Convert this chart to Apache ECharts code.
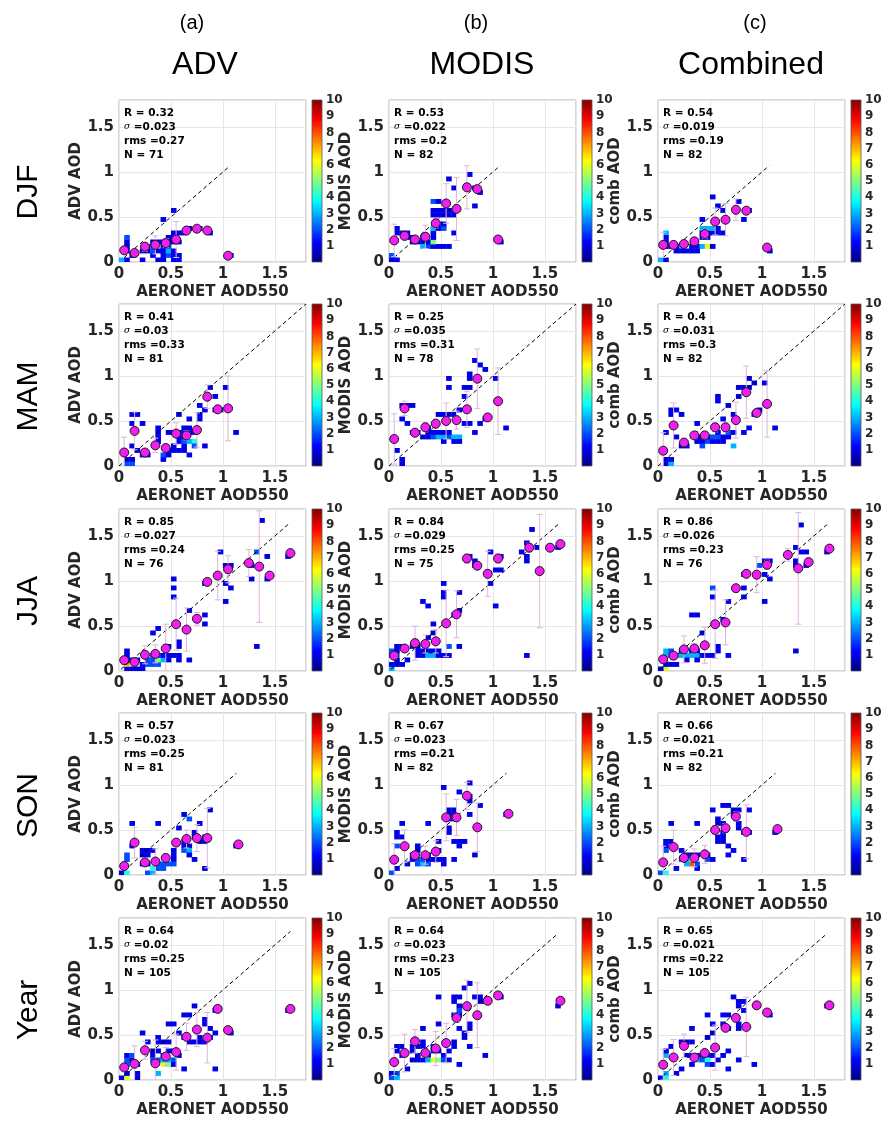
<!DOCTYPE html>
<html><head><meta charset="utf-8">
<script src="https://cdn.jsdelivr.net/npm/echarts@6/dist/echarts.min.js"></script>
<style>html,body{margin:0;padding:0;background:#fff}#c{width:894px;height:1128px}</style>
</head><body><div id="c"></div><script>
// ---------------- DATA ----------------
const COL_TAGS = ['(a)', '(b)', '(c)'];
const COL_TITLES = ['ADV', 'MODIS', 'Combined'];
const ROW_LABELS = ['DJF', 'MAM', 'JJA', 'SON', 'Year'];
const Y_NAMES = ['ADV AOD', 'MODIS AOD', 'comb AOD'];
const X_NAME = 'AERONET AOD550';
const AXIS_TICKS = [0, 0.5, 1, 1.5];
const CBAR_TICKS = [1, 2, 3, 4, 5, 6, 7, 8, 9, 10];
const BIN = 0.05;

const STAT_R = [[0.32, 0.53, 0.54], [0.41, 0.25, 0.4], [0.85, 0.84, 0.86], [0.57, 0.67, 0.66], [0.64, 0.64, 0.65]];
const STAT_SIGMA = [[0.023, 0.022, 0.019], [0.03, 0.035, 0.031], [0.027, 0.029, 0.026], [0.023, 0.023, 0.021], [0.02, 0.023, 0.021]];
const STAT_RMS = [[0.27, 0.2, 0.19], [0.33, 0.31, 0.3], [0.24, 0.25, 0.23], [0.25, 0.21, 0.21], [0.25, 0.23, 0.22]];
const STAT_N = [[71, 82, 82], [81, 78, 82], [76, 75, 76], [81, 82, 82], [105, 105, 105]];

// 1:1 line extent [start, end] per panel
const LINE_EXT = [
  [[0.05, 1.07], [0.05, 1.07], [0.05, 1.07]],
  [[0, 1.8], [0, 1.8], [0, 1.8]],
  [[0.02, 1.65], [0.02, 1.65], [0.02, 1.65]],
  [[0.05, 1.13], [0.1, 1.13], [0.05, 1.13]],
  [[0.05, 1.65], [0.05, 1.63], [0.05, 1.63]]
];

// 2D histogram cells: [x bin start, y bin start, count]
const cells_ADV_DJF = [[0,0,3],[0.05,0,1],[0.05,0.1,1],[0.05,0.15,1],[0.05,0.2,1],[0.05,0.25,2],[0.1,0.05,1],[0.2,0,1],[0.2,0.1,1],[0.25,0.1,1],[0.25,0.15,2],[0.3,0.05,1],[0.3,0.1,2],[0.3,0.15,2],[0.3,0.2,1],[0.35,0,1],[0.35,0.1,1],[0.35,0.2,1],[0.4,0,1],[0.4,0.05,1],[0.4,0.1,1],[0.4,0.15,1],[0.4,0.2,1],[0.4,0.45,1],[0.45,0.05,2],[0.45,0.1,3],[0.45,0.15,2],[0.45,0.2,1],[0.45,0.25,1],[0.5,0,1],[0.5,0.05,1],[0.5,0.1,1],[0.5,0.2,1],[0.5,0.25,1],[0.5,0.3,1],[0.5,0.55,1],[0.55,0,1],[0.55,0.05,1],[0.55,0.2,1],[0.55,0.3,1],[0.6,0.3,1],[0.65,0.35,1],[0.75,0.35,1],[0.85,0.3,1],[1.05,0.05,1]];
const cells_MODIS_DJF = [[0,0,1],[0.05,0,1],[0,0.05,2],[0.05,0.3,1],[0.05,0.35,1],[0.1,0.3,1],[0.15,0.3,1],[0.15,0.25,1],[0.2,0.2,1],[0.2,0.25,1],[0.25,0.2,1],[0.3,0.2,1],[0.3,0.15,3],[0.35,0.15,2],[0.4,0.15,1],[0.45,0.15,1],[0.5,0.15,1],[0.55,0.15,1],[0.35,0.2,1],[0.3,0.25,1],[0.4,0.2,5],[0.4,0.25,1],[0.4,0.3,1],[0.4,0.35,3],[0.45,0.35,1],[0.45,0.4,2],[0.4,0.5,1],[0.4,0.55,1],[0.4,0.65,2],[0.45,0.65,1],[0.45,0.5,1],[0.45,0.55,1],[0.5,0.5,1],[0.5,0.55,1],[0.55,0.5,1],[0.55,0.55,1],[0.6,0.55,1],[0.6,0.5,1],[0.5,0.35,2],[0.5,0.4,1],[0.55,0.9,1],[0.6,0.8,1],[0.6,0.3,1],[0.75,0.95,1],[0.8,0.6,1],[0.85,0.75,1],[0.8,0.8,1],[1.05,0.2,1]];
const cells_COMB_DJF = [[0,0,3],[0.05,0,1],[0.05,0.3,3],[0.05,0.25,1],[0.05,0.2,1],[0.05,0.15,1],[0.1,0.15,1],[0.15,0.15,1],[0.2,0.15,3],[0.15,0.1,1],[0.2,0.1,1],[0.25,0.1,1],[0.3,0.1,1],[0.3,0.15,1],[0.35,0.15,1],[0.35,0.1,1],[0.4,0.15,3],[0.45,0.15,6],[0.5,0.15,1],[0.4,0.25,1],[0.45,0.25,1],[0.4,0.3,1],[0.45,0.3,1],[0.5,0.3,1],[0.55,0.3,1],[0.4,0.35,3],[0.45,0.35,3],[0.5,0.35,3],[0.55,0.35,1],[0.6,0.3,1],[0.4,0.45,1],[0.5,0.7,1],[0.55,0.6,1],[0.6,0.55,1],[0.75,0.65,1],[0.8,0.45,1],[0.85,0.55,1],[1.05,0.1,1]];
const cells_ADV_MAM = [[0.05,0,2],[0.05,0.05,1],[0.1,0,2],[0.1,0.05,1],[0.1,0.2,1],[0.1,0.45,1],[0.1,0.55,1],[0.15,0.55,1],[0.15,0.15,1],[0.2,0.45,1],[0.2,0.1,1],[0.25,0.1,1],[0.35,0.25,1],[0.35,0.3,1],[0.35,0.35,1],[0.35,0.4,1],[0.4,0.05,1],[0.4,0.1,2],[0.45,0.1,1],[0.45,0.15,1],[0.45,0.35,1],[0.5,0.15,1],[0.5,0.2,1],[0.5,0.35,1],[0.55,0.15,1],[0.55,0.25,1],[0.55,0.3,1],[0.55,0.35,1],[0.55,0.55,1],[0.6,0.15,1],[0.6,0.2,1],[0.6,0.25,2],[0.6,0.3,1],[0.6,0.35,1],[0.6,0.4,1],[0.65,0.25,3],[0.65,0.35,1],[0.65,0.4,1],[0.65,0.1,1],[0.65,0.5,1],[0.7,0.25,4],[0.7,0.2,2],[0.7,0.35,1],[0.75,0.5,1],[0.75,0.55,1],[0.75,0.65,1],[0.8,0.2,1],[0.8,0.6,1],[0.85,0.85,1],[0.9,0.75,1],[0.9,0.6,1],[0.95,0.6,1],[1.0,0.85,1],[1.1,0.35,1]];
const cells_MODIS_MAM = [[0.1,0,1],[0.1,0.05,1],[0.05,0.15,1],[0.1,0.5,1],[0.1,0.65,1],[0.15,0.65,1],[0.2,0.65,1],[0.15,0.45,1],[0.2,0.35,1],[0.25,0.35,1],[0.3,0.3,1],[0.35,0.35,1],[0.35,0.4,1],[0.35,0.3,1],[0.4,0.3,2],[0.4,0.35,1],[0.45,0.3,3],[0.5,0.3,3],[0.55,0.3,2],[0.6,0.3,3],[0.65,0.3,3],[0.45,0.35,1],[0.5,0.35,1],[0.55,0.35,1],[0.6,0.25,1],[0.65,0.25,1],[0.5,0.25,1],[0.45,0.55,1],[0.5,0.55,1],[0.55,0.55,1],[0.6,0.55,1],[0.65,0.6,1],[0.55,0.85,1],[0.55,0.95,1],[0.7,0.85,1],[0.75,0.85,1],[0.75,0.95,1],[0.75,1.0,1],[0.8,1.15,1],[0.85,1.1,1],[0.9,1.05,1],[0.7,0.75,1],[0.7,0.45,1],[0.75,0.45,1],[0.85,0.45,1],[0.8,0.35,1],[0.9,0.5,1],[1.0,0.95,1],[1.1,0.4,1]];
const cells_COMB_MAM = [[0.05,0,1],[0.05,0.05,1],[0.1,0,3],[0.1,0.05,1],[0.1,0.55,1],[0.1,0.6,1],[0.15,0.6,1],[0.05,0.35,1],[0.15,0.3,1],[0.2,0.55,1],[0.2,0.2,1],[0.25,0.2,1],[0.35,0.45,1],[0.35,0.25,1],[0.35,0.3,1],[0.4,0.2,2],[0.4,0.25,1],[0.4,0.3,1],[0.45,0.25,2],[0.45,0.3,1],[0.5,0.25,1],[0.5,0.3,2],[0.55,0.25,1],[0.55,0.3,2],[0.55,0.35,1],[0.6,0.25,1],[0.6,0.3,1],[0.65,0.3,1],[0.65,0.35,2],[0.7,0.2,3],[0.7,0.35,1],[0.55,0.7,1],[0.55,0.75,1],[0.6,0.5,1],[0.65,0.65,1],[0.7,0.55,1],[0.75,0.75,1],[0.75,0.85,1],[0.8,0.85,1],[0.85,0.85,1],[0.85,0.95,1],[0.9,0.9,1],[1.0,0.9,1],[0.8,0.35,1],[0.85,0.4,1],[0.9,0.55,1],[0.95,0.6,1],[1.1,0.4,1]];
const cells_ADV_JJA = [[0.05,0,1],[0.1,0,1],[0.15,0,1],[0.2,0,1],[0.05,0.05,7],[0.05,0.1,1],[0.05,0.15,1],[0.05,0.2,1],[0.1,0.1,1],[0.15,0.1,1],[0.2,0.05,1],[0.25,0.05,2],[0.25,0.1,2],[0.3,0.05,2],[0.3,0.1,2],[0.3,0.15,2],[0.35,0.05,2],[0.35,0.1,5],[0.35,0.15,2],[0.4,0.1,3],[0.4,0.15,1],[0.45,0.1,1],[0.45,0.15,1],[0.5,0.15,1],[0.55,0.15,1],[0.45,0.25,1],[0.3,0.4,1],[0.35,0.45,1],[0.5,0.8,1],[0.5,0.9,1],[0.5,1.0,1],[0.55,0.25,1],[0.55,0.3,1],[0.55,0.1,1],[0.65,0.1,1],[0.65,0.65,1],[0.8,0.6,1],[0.8,0.5,1],[0.8,0.95,1],[0.95,1.3,1],[1.0,1.15,1],[1.05,1.15,1],[1.0,0.95,1],[1.0,0.75,1],[1.05,0.9,1],[1.25,1.15,1],[1.25,1.0,1],[1.3,1.3,2],[1.35,1.65,1],[1.3,0.25,1],[1.4,1.25,1],[1.4,1.0,1],[1.6,1.25,1]];
const cells_MODIS_JJA = [[0,0,3],[0,0.05,1],[0.05,0.05,1],[0.05,0.1,1],[0.05,0.15,3],[0,0.15,2],[0,0.2,2],[0.05,0.2,1],[0.05,0.25,1],[0.1,0.25,1],[0.1,0.05,1],[0.15,0.1,1],[0.2,0.25,1],[0.25,0.25,1],[0.3,0.2,1],[0.25,0.15,1],[0.25,0.2,1],[0.3,0.15,1],[0.35,0.15,3],[0.4,0.15,3],[0.35,0.2,1],[0.4,0.2,1],[0.45,0.15,1],[0.45,0.2,1],[0.5,0.15,1],[0.55,0.15,1],[0.4,0.4,1],[0.4,0.5,1],[0.3,0.75,1],[0.35,0.7,1],[0.35,0.35,1],[0.5,0.8,1],[0.5,0.85,1],[0.5,0.95,1],[0.55,0.25,2],[0.65,0.85,1],[0.6,0.6,1],[0.65,0.65,1],[0.65,0.25,1],[0.75,1.25,1],[0.8,1.15,1],[0.8,1.2,1],[0.95,1.3,1],[0.95,0.95,1],[1.0,0.7,1],[1.0,1.1,1],[1.05,1.1,1],[1.05,1.25,1],[1.25,1.3,1],[1.3,1.25,1],[1.3,1.2,1],[1.3,1.4,1],[1.35,1.55,1],[1.3,0.15,1],[1.4,1.35,1],[1.6,1.35,1]];
const cells_COMB_JJA = [[0.05,0,6],[0,0,1],[0.05,0.05,1],[0.1,0.05,1],[0.15,0.05,1],[0.05,0.15,3],[0.05,0.2,3],[0.1,0.2,2],[0.1,0.15,2],[0.15,0.15,3],[0.2,0.15,3],[0.25,0.15,3],[0.3,0.15,3],[0.35,0.15,3],[0.2,0.2,1],[0.3,0.2,1],[0.35,0.2,1],[0.25,0.1,1],[0.35,0.1,1],[0.4,0.15,1],[0.45,0.15,1],[0.5,0.15,1],[0.55,0.2,1],[0.55,0.25,1],[0.4,0.4,1],[0.3,0.6,1],[0.35,0.6,1],[0.5,0.8,1],[0.5,0.9,2],[0.6,0.55,1],[0.65,0.75,1],[0.65,0.15,1],[0.8,0.8,1],[0.8,0.9,1],[0.8,1.05,1],[0.95,1.15,2],[1.0,1.05,1],[1.0,1.2,1],[1.05,1.2,1],[1.05,1.0,1],[1.0,0.75,1],[1.3,1.2,1],[1.3,1.15,1],[1.35,1.3,1],[1.3,1.35,1],[1.35,1.6,1],[1.3,0.2,1],[1.4,1.3,1],[1.4,1.15,1],[1.6,1.3,1]];
const cells_ADV_SON = [[0,0,1],[0.05,0,4],[0.05,0.15,2],[0.05,0.2,2],[0.1,0.3,1],[0.1,0.55,1],[0.2,0.2,1],[0.2,0.25,1],[0.25,0.2,1],[0.25,0.25,1],[0.3,0.25,1],[0.2,0.1,1],[0.25,0.1,1],[0.25,0,2],[0.3,0,3],[0.3,0.05,4],[0.35,0.05,2],[0.35,0.1,2],[0.4,0.1,2],[0.45,0.1,2],[0.5,0.1,2],[0.4,0.05,2],[0.35,0.55,1],[0.5,0.15,1],[0.5,0.2,1],[0.5,0.25,1],[0.55,0.5,1],[0.6,0.65,1],[0.65,0.6,2],[0.6,0.3,1],[0.65,0.3,1],[0.6,0.25,2],[0.65,0.25,3],[0.6,0.35,1],[0.65,0.2,1],[0.7,0.45,1],[0.7,0.4,1],[0.75,0.35,1],[0.8,0.35,1],[0.7,0.15,1],[0.75,0.55,1],[0.8,0.05,1],[0.85,0.7,1],[0.8,0.4,1],[1.1,0.3,1]];
const cells_MODIS_SON = [[0,0,2],[0.05,0.05,1],[0.05,0.4,1],[0.1,0.4,1],[0.05,0.45,1],[0.05,0.3,2],[0.1,0.55,1],[0.15,0.1,1],[0.25,0.25,1],[0.25,0.3,1],[0.2,0.2,1],[0.2,0.15,1],[0.25,0.1,2],[0.25,0.15,2],[0.3,0.1,3],[0.3,0.15,2],[0.35,0.1,2],[0.35,0.15,1],[0.35,0.2,1],[0.4,0.15,1],[0.45,0.15,1],[0.5,0.1,1],[0.5,0.15,1],[0.35,0.55,1],[0.45,0.35,1],[0.45,0.25,1],[0.5,0.95,1],[0.55,0.6,1],[0.55,0.65,1],[0.6,0.65,1],[0.6,0.7,1],[0.55,0.7,1],[0.6,0.6,1],[0.55,0.45,1],[0.55,0.5,1],[0.6,0.35,1],[0.65,0.35,1],[0.7,0.35,1],[0.65,0.3,1],[0.6,0.15,1],[0.65,0.9,1],[0.75,1.0,1],[0.75,0.85,1],[0.75,0.8,1],[0.75,0.65,1],[0.85,0.75,1],[0.8,0.2,1],[1.1,0.65,1]];
const cells_COMB_SON = [[0,0,2],[0.05,0,4],[0.05,0.3,1],[0.05,0.35,1],[0.1,0.35,1],[0.05,0.25,2],[0.1,0.55,1],[0.15,0.05,1],[0.2,0.25,1],[0.25,0.2,1],[0.3,0.2,1],[0.35,0.2,1],[0.25,0.15,3],[0.3,0.1,8],[0.25,0.1,3],[0.35,0.1,2],[0.2,0.15,2],[0.35,0.05,1],[0.35,0.55,1],[0.45,0.15,2],[0.5,0.15,1],[0.45,0.2,1],[0.5,0.7,1],[0.55,0.6,1],[0.6,0.75,1],[0.65,0.75,1],[0.55,0.55,1],[0.6,0.55,1],[0.6,0.45,1],[0.55,0.4,1],[0.6,0.4,1],[0.55,0.35,1],[0.6,0.35,1],[0.65,0.3,1],[0.7,0.25,1],[0.65,0.2,1],[0.7,0.65,1],[0.7,0.7,1],[0.75,0.7,1],[0.75,0.55,1],[0.75,0.5,1],[0.8,0.45,1],[0.8,0.15,1],[0.85,0.7,1],[0.85,0.45,1],[1.1,0.45,1]];
const cells_ADV_YEAR = [[0,0,1],[0.05,0,6],[0.15,0,1],[0.05,0.05,1],[0.05,0.15,2],[0.05,0.2,2],[0.1,0.2,1],[0.05,0.25,1],[0.1,0.25,2],[0.15,0.05,1],[0.15,0.15,1],[0.2,0.5,1],[0.25,0.4,1],[0.3,0.25,1],[0.3,0.3,1],[0.35,0.3,1],[0.3,0.2,2],[0.35,0.2,2],[0.4,0.15,6],[0.45,0.15,5],[0.35,0.05,3],[0.4,0.2,3],[0.45,0.2,3],[0.5,0.2,2],[0.5,0.15,1],[0.35,0.4,1],[0.4,0.4,1],[0.45,0.4,1],[0.35,0.45,1],[0.4,0.25,1],[0.45,0.3,1],[0.5,0.3,1],[0.45,0.6,1],[0.5,0.6,1],[0.55,0.5,1],[0.6,0.45,1],[0.55,0.25,1],[0.6,0.7,1],[0.65,0.7,1],[0.65,0.4,1],[0.7,0.4,1],[0.75,0.4,1],[0.8,0.4,1],[0.75,0.45,1],[0.6,0.1,1],[0.7,0.8,1],[0.8,0.6,1],[0.8,0.65,1],[0.85,0.55,1],[0.85,0.45,1],[0.9,0.5,1],[0.9,0.1,1],[0.9,0.75,1],[1.05,0.5,1],[1.6,0.75,1]];
const cells_MODIS_YEAR = [[0,0,2],[0.05,0,3],[0.05,0.05,2],[0,0.05,1],[0.05,0.3,1],[0.05,0.35,1],[0.1,0.35,1],[0.1,0.25,1],[0.15,0.1,1],[0.2,0.3,1],[0.2,0.35,1],[0.25,0.35,1],[0.3,0.35,1],[0.3,0.4,1],[0.2,0.2,1],[0.25,0.2,1],[0.3,0.2,1],[0.25,0.25,1],[0.35,0.25,1],[0.35,0.2,3],[0.4,0.2,6],[0.45,0.2,5],[0.4,0.3,1],[0.4,0.35,1],[0.45,0.3,1],[0.5,0.25,1],[0.5,0.2,2],[0.55,0.2,1],[0.3,0.55,1],[0.45,0.9,1],[0.45,0.6,1],[0.6,0.85,1],[0.65,0.9,1],[0.6,0.9,1],[0.65,0.8,1],[0.65,0.75,2],[0.7,1.0,1],[0.75,1.05,1],[0.8,0.9,1],[0.85,0.85,1],[0.85,0.9,1],[0.6,0.7,1],[0.65,0.7,1],[0.65,0.55,1],[0.6,0.35,1],[0.6,0.4,1],[0.55,0.3,1],[0.65,0.15,1],[0.7,0.45,1],[0.7,0.5,1],[0.75,0.55,1],[0.75,0.6,1],[0.75,0.35,1],[0.9,0.25,1],[0.9,0.85,1],[1.05,0.9,1],[1.6,0.8,1]];
const cells_COMB_YEAR = [[0,0,1],[0.05,0,4],[0.05,0.05,3],[0.05,0.25,3],[0.05,0.3,1],[0.1,0.35,1],[0.15,0.05,1],[0.2,0.1,1],[0.2,0.4,1],[0.25,0.4,1],[0.3,0.4,1],[0.3,0.55,1],[0.25,0.25,1],[0.3,0.25,1],[0.35,0.25,1],[0.4,0.25,1],[0.45,0.25,1],[0.35,0.2,3],[0.4,0.2,2],[0.45,0.2,4],[0.45,0.15,2],[0.5,0.15,1],[0.55,0.2,1],[0.5,0.25,1],[0.3,0.15,1],[0.45,0.45,1],[0.5,0.5,1],[0.5,0.6,1],[0.45,0.7,1],[0.6,0.6,1],[0.65,0.55,1],[0.6,0.7,1],[0.65,0.7,1],[0.6,0.25,1],[0.65,0.3,1],[0.65,0.1,1],[0.7,0.9,1],[0.75,0.8,1],[0.8,0.85,1],[0.75,0.85,1],[0.75,0.55,1],[0.75,0.6,1],[0.8,0.75,1],[0.75,0.2,1],[0.9,0.15,1],[1.05,0.7,1],[1.6,0.8,1]];

// binned means: [AERONET bin centre, mean, std]
const means_ADV_DJF = [[0.05,0.13,0.03],[0.15,0.1,0.03],[0.25,0.17,0.05],[0.35,0.19,0.1],[0.45,0.21,0.05],[0.55,0.25,0.2],[0.65,0.35,0.03],[0.75,0.37,0.03],[0.85,0.35,0.02],[1.05,0.07,0]];
const means_MODIS_DJF = [[0.05,0.24,0.18],[0.15,0.29,0.04],[0.25,0.25,0.03],[0.35,0.28,0.13],[0.45,0.43,0.05],[0.55,0.65,0.22],[0.65,0.59,0.35],[0.75,0.83,0.24],[0.85,0.81,0.03],[1.05,0.25,0]];
const means_COMB_DJF = [[0.05,0.19,0.14],[0.15,0.19,0.03],[0.25,0.2,0.03],[0.35,0.23,0.04],[0.45,0.31,0.05],[0.55,0.45,0.15],[0.65,0.47,0.18],[0.75,0.58,0.12],[0.85,0.57,0.03],[1.05,0.16,0]];
const means_ADV_MAM = [[0.05,0.15,0.17],[0.15,0.39,0.21],[0.25,0.15,0.03],[0.35,0.23,0.08],[0.45,0.2,0.04],[0.55,0.36,0.12],[0.65,0.34,0.05],[0.75,0.4,0.19],[0.85,0.77,0.13],[0.95,0.63,0.03],[1.05,0.64,0.36]];
const means_MODIS_MAM = [[0.05,0.3,0.28],[0.15,0.64,0.08],[0.25,0.37,0.04],[0.35,0.43,0.05],[0.45,0.47,0.05],[0.55,0.5,0.2],[0.65,0.51,0.1],[0.75,0.63,0.2],[0.85,0.97,0.33],[0.95,0.54,0.03],[1.05,0.72,0.37]];
const means_COMB_MAM = [[0.05,0.17,0.2],[0.15,0.45,0.25],[0.25,0.26,0.03],[0.35,0.34,0.04],[0.45,0.34,0.04],[0.55,0.43,0.05],[0.65,0.43,0.05],[0.75,0.51,0.2],[0.85,0.82,0.29],[0.95,0.59,0.03],[1.05,0.69,0.37]];
const means_ADV_JJA = [[0.05,0.12,0.03],[0.15,0.1,0.03],[0.25,0.18,0.1],[0.35,0.19,0.1],[0.45,0.25,0.27],[0.55,0.52,0.29],[0.65,0.46,0.24],[0.75,0.58,0.07],[0.85,0.99,0.02],[0.95,1.06,0.27],[1.05,1.13,0.15],[1.25,1.2,0.15],[1.35,1.16,0.62],[1.45,1.06,0.03],[1.65,1.31,0]];
const means_MODIS_JJA = [[0.05,0.17,0.03],[0.15,0.25,0.03],[0.25,0.31,0.19],[0.35,0.3,0.1],[0.45,0.33,0.13],[0.55,0.53,0.37],[0.65,0.63,0.26],[0.75,1.25,0.05],[0.85,1.17,0.03],[0.95,1.08,0.25],[1.05,1.25,0.05],[1.35,1.37,0.05],[1.45,1.11,0.63],[1.55,1.37,0.03],[1.65,1.41,0]];
const means_COMB_JJA = [[0.05,0.13,0.03],[0.15,0.17,0.03],[0.25,0.24,0.15],[0.35,0.25,0.05],[0.45,0.285,0.2],[0.55,0.52,0.38],[0.65,0.54,0.25],[0.75,0.92,0.04],[0.85,1.08,0.03],[0.95,1.07,0.2],[1.05,1.18,0.05],[1.25,1.29,0.07],[1.35,1.14,0.62],[1.45,1.21,0.03],[1.65,1.36,0]];
const means_ADV_SON = [[0.05,0.1,0.03],[0.15,0.36,0.17],[0.25,0.14,0.03],[0.35,0.15,0.14],[0.45,0.19,0.04],[0.55,0.36,0.04],[0.65,0.4,0.1],[0.75,0.41,0.15],[0.85,0.41,0.33],[1.15,0.34,0]];
const means_MODIS_SON = [[0.05,0.17,0.18],[0.15,0.32,0.18],[0.25,0.22,0.03],[0.35,0.22,0.1],[0.45,0.26,0.12],[0.55,0.64,0.26],[0.65,0.64,0.2],[0.75,0.88,0.15],[0.85,0.53,0.27],[1.15,0.68,0]];
const means_COMB_SON = [[0.05,0.14,0.18],[0.15,0.31,0.19],[0.25,0.19,0.03],[0.35,0.19,0.1],[0.45,0.23,0.1],[0.55,0.5,0.05],[0.65,0.52,0.05],[0.75,0.65,0.05],[0.85,0.48,0.3],[1.15,0.51,0]];
const means_ADV_YEAR = [[0.05,0.14,0.03],[0.15,0.18,0.2],[0.25,0.33,0.1],[0.35,0.185,0.26],[0.45,0.26,0.1],[0.55,0.31,0.2],[0.65,0.48,0.15],[0.75,0.56,0.19],[0.85,0.47,0.28],[0.95,0.79,0.02],[1.05,0.555,0.02],[1.65,0.79,0]];
const means_MODIS_YEAR = [[0.05,0.2,0.15],[0.15,0.3,0.21],[0.25,0.43,0.13],[0.35,0.3,0.05],[0.45,0.35,0.19],[0.55,0.41,0.22],[0.65,0.69,0.05],[0.75,0.82,0.29],[0.85,0.72,0.36],[0.95,0.88,0.02],[1.05,0.94,0.02],[1.65,0.88,0]];
const means_COMB_YEAR = [[0.05,0.17,0.17],[0.15,0.25,0.2],[0.25,0.38,0.13],[0.35,0.25,0.04],[0.45,0.3,0.04],[0.55,0.36,0.25],[0.65,0.58,0.04],[0.75,0.69,0.04],[0.85,0.59,0.33],[0.95,0.83,0.02],[1.05,0.75,0.02],[1.65,0.83,0]];

const CELLS = [
  [cells_ADV_DJF, cells_MODIS_DJF, cells_COMB_DJF],
  [cells_ADV_MAM, cells_MODIS_MAM, cells_COMB_MAM],
  [cells_ADV_JJA, cells_MODIS_JJA, cells_COMB_JJA],
  [cells_ADV_SON, cells_MODIS_SON, cells_COMB_SON],
  [cells_ADV_YEAR, cells_MODIS_YEAR, cells_COMB_YEAR]
];
const MEANS = [
  [means_ADV_DJF, means_MODIS_DJF, means_COMB_DJF],
  [means_ADV_MAM, means_MODIS_MAM, means_COMB_MAM],
  [means_ADV_JJA, means_MODIS_JJA, means_COMB_JJA],
  [means_ADV_SON, means_MODIS_SON, means_COMB_SON],
  [means_ADV_YEAR, means_MODIS_YEAR, means_COMB_YEAR]
];

// ---------------- LAYOUT / STYLE ----------------
const GRID_LEFT = [119, 389, 658];
const GRID_TOP = [100, 304, 509, 713, 918];
const GRID_W = 187, GRID_H = 162;
const CB_GAP = 6, CB_W = 10;
const AX_FONT = "'DejaVu Sans', sans-serif";
const TITLE_FONT = "'Liberation Sans', Arial, sans-serif";
const AX_COLOR = '#262626';

function jet(v) {
  v = Math.max(0, Math.min(1, v));
  const f = t => Math.round(255 * Math.max(0, Math.min(1, 1.5 - Math.abs(4 * v - t))));
  return 'rgb(' + f(3) + ',' + f(2) + ',' + f(1) + ')';
}
const JET_STOPS = [];
for (let i = 0; i <= 40; i++) JET_STOPS.push({offset: i / 40, color: jet(i / 40)});

function heatRender(params, api) {
  const x = api.value(0), y = api.value(1), n = api.value(2);
  const p0 = api.coord([x, y]);
  const p1 = api.coord([x + BIN, y + BIN]);
  return {type: 'rect',
    shape: {x: p0[0], y: p1[1], width: p1[0] - p0[0] + 0.4, height: p0[1] - p1[1] + 0.4},
    style: {fill: jet(n / 10)}};
}
function errRender(params, api) {
  const x = api.value(0), m = api.value(1), s = api.value(2);
  const kids = [];
  if (s > 0) {
    const hi = Math.min(m + s, 1.8), lo = Math.max(m - s, 0);
    const a = api.coord([x, hi]), b = api.coord([x, lo]);
    const st = {stroke: '#dcb6dc', lineWidth: 1};
    kids.push({type: 'line', shape: {x1: a[0], y1: a[1], x2: b[0], y2: b[1]}, style: st});
    kids.push({type: 'line', shape: {x1: a[0] - 3, y1: a[1], x2: a[0] + 3, y2: a[1]}, style: st});
    if (m - s >= 0) kids.push({type: 'line', shape: {x1: b[0] - 3, y1: b[1], x2: b[0] + 3, y2: b[1]}, style: st});
  }
  return {type: 'group', children: kids};
}
function cbarRender(params, api) {
  const p0 = api.coord([0, 0]), p1 = api.coord([1, 10]);
  return {type: 'rect',
    shape: {x: p0[0], y: p1[1], width: p1[0] - p0[0], height: p0[1] - p1[1]},
    style: {fill: {type: 'linear', x: 0, y: 1, x2: 0, y2: 0, colorStops: JET_STOPS}, stroke: '#555', lineWidth: 0.8}};
}

const grids = [], xAxes = [], yAxes = [], series = [], graphics = [];
const cbGrids = [], cbX = [], cbY = [];
const tickFmt = v => AXIS_TICKS.indexOf(Math.round(v * 100) / 100) >= 0 ? String(Math.round(v * 100) / 100) : '';
const axLabel = {fontFamily: AX_FONT, fontWeight: 'bold', fontSize: 15, color: AX_COLOR};

for (let r = 0; r < 5; r++) {
  for (let c = 0; c < 3; c++) {
    const k = r * 3 + c;
    const L = GRID_LEFT[c], T = GRID_TOP[r];
    grids.push({left: L, top: T, width: GRID_W, height: GRID_H, show: true,
      borderColor: '#b0b0b0', borderWidth: 1, backgroundColor: '#fff', containLabel: false});
    xAxes.push({gridIndex: k, type: 'value', min: 0, max: 1.8, interval: 0.5,
      name: X_NAME, nameLocation: 'middle', nameGap: 23,
      nameTextStyle: {fontFamily: AX_FONT, fontWeight: 'bold', fontSize: 15, color: AX_COLOR},
      axisLine: {show: false}, axisTick: {show: false},
      splitLine: {show: true, lineStyle: {color: '#e6e6e6', width: 1}},
      axisLabel: Object.assign({margin: 5, formatter: tickFmt}, axLabel)});
    yAxes.push({gridIndex: k, type: 'value', min: 0, max: 1.8, interval: 0.5,
      name: Y_NAMES[c], nameLocation: 'middle', nameGap: 32, nameRotate: 90,
      nameTextStyle: {fontFamily: AX_FONT, fontWeight: 'bold', fontSize: 15, color: AX_COLOR},
      axisLine: {show: false}, axisTick: {show: false},
      splitLine: {show: true, lineStyle: {color: '#e6e6e6', width: 1}},
      axisLabel: Object.assign({margin: 5, formatter: tickFmt}, axLabel)});

    cbGrids.push({left: L + GRID_W + CB_GAP, top: T, width: CB_W, height: GRID_H});
    cbX.push({gridIndex: 15 + k, type: 'value', min: 0, max: 1, show: false});
    cbY.push({gridIndex: 15 + k, type: 'value', min: 0, max: 10, interval: 1, position: 'right',
      axisLine: {show: false}, axisTick: {show: false}, splitLine: {show: false},
      axisLabel: {margin: 4, fontFamily: AX_FONT, fontWeight: 'bold', fontSize: 12, color: AX_COLOR,
        formatter: v => CBAR_TICKS.indexOf(v) >= 0 ? String(v) : ''}});

    series.push({type: 'custom', xAxisIndex: k, yAxisIndex: k, data: CELLS[r][c],
      renderItem: heatRender, clip: true, silent: true, z: 1});
    const ext = LINE_EXT[r][c];
    series.push({type: 'line', xAxisIndex: k, yAxisIndex: k,
      data: [[ext[0], ext[0]], [ext[1], ext[1]]], symbol: 'none', silent: true,
      lineStyle: {color: '#000', width: 1, type: [4, 3]}, z: 2});
    series.push({type: 'custom', xAxisIndex: k, yAxisIndex: k, data: MEANS[r][c],
      renderItem: errRender, clip: true, silent: true, z: 3});
    series.push({type: 'scatter', xAxisIndex: k, yAxisIndex: k,
      data: MEANS[r][c].map(p => [p[0], p[1]]), symbol: 'circle', symbolSize: 9,
      itemStyle: {color: '#f01ef0', borderColor: '#1a1a1a', borderWidth: 1, opacity: 1}, z: 4});
    series.push({type: 'custom', xAxisIndex: 15 + k, yAxisIndex: 15 + k, data: [[0, 0]],
      renderItem: cbarRender, silent: true, z: 1});

    graphics.push({type: 'text', x: L + 5, y: T + 6, z: 10, style: {
      text: '{b|R = ' + STAT_R[r][c] + '}\n{s|σ}{b| =' + STAT_SIGMA[r][c] + '}\n{b|rms =' + STAT_RMS[r][c] + '}\n{b|N = ' + STAT_N[r][c] + '}',
      rich: {
        b: {fontFamily: AX_FONT, fontWeight: 'bold', fontSize: 10.5, lineHeight: 14, fill: '#000', color: '#000'},
        s: {fontFamily: "'DejaVu Serif', serif", fontStyle: 'italic', fontSize: 9, lineHeight: 14, fill: '#000', color: '#000'}
      }}});
  }
}

const TAG_X = [192, 476, 755];
const TITLE_X = [205, 482, 751];
for (let c = 0; c < 3; c++) {
  graphics.push({type: 'text', x: TAG_X[c], y: 23, style: {text: COL_TAGS[c], font: '20px ' + TITLE_FONT,
    fill: '#000', align: 'center', verticalAlign: 'middle', textAlign: 'center', textVerticalAlign: 'middle'}});
  graphics.push({type: 'text', x: TITLE_X[c], y: 65, style: {text: COL_TITLES[c], font: '32px ' + TITLE_FONT,
    fill: '#000', align: 'center', verticalAlign: 'middle', textAlign: 'center', textVerticalAlign: 'middle'}});
}
for (let r = 0; r < 5; r++) {
  graphics.push({type: 'text', x: 29, y: 192 + r * 204.5, rotation: Math.PI / 2, style: {text: ROW_LABELS[r],
    font: '30px ' + TITLE_FONT, fill: '#000', align: 'center', verticalAlign: 'middle',
    textAlign: 'center', textVerticalAlign: 'middle'}});
}

const chart = echarts.init(document.getElementById('c'), null, {renderer: 'canvas'});
chart.setOption({
  backgroundColor: '#fff',
  animation: false,
  grid: grids.concat(cbGrids),
  xAxis: xAxes.concat(cbX),
  yAxis: yAxes.concat(cbY),
  series: series,
  graphic: graphics
});
</script></body></html>
